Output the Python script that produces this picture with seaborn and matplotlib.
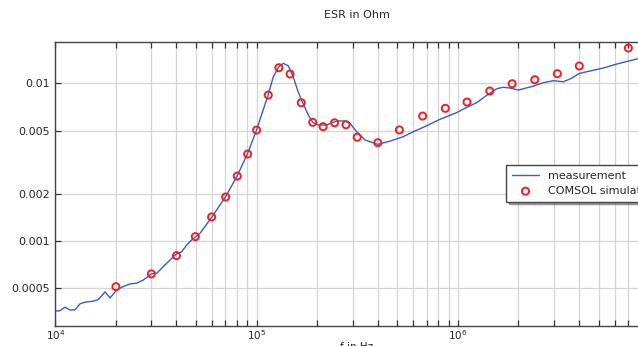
import numpy as np
import pandas as pd
import matplotlib
matplotlib.use("Agg")
import matplotlib.pyplot as plt
from matplotlib.ticker import FixedLocator, FixedFormatter, LogLocator, NullFormatter, NullLocator
import seaborn as sns

# Measured ESR spectrum
meas_freq = [1.0e4, 1.05e4, 1.118e4, 1.18e4, 1.25e4, 1.327e4, 1.405e4, 1.545e4, 1.635e4,
             1.766e4, 1.87e4, 2.0e4, 2.14e4, 2.35e4, 2.54e4, 2.74e4, 3.0e4, 3.19e4, 3.44e4,
             3.79e4, 4.0e4, 4.25e4, 4.5e4, 4.76e4, 5.24e4, 6.0e4, 7.0e4, 8.0e4, 9.0e4, 1.0e5,
             1.07e5, 1.14e5, 1.21e5, 1.29e5, 1.358e5, 1.437e5, 1.52e5, 1.6e5, 1.67e5, 1.806e5,
             1.9e5, 2.03e5, 2.23e5, 2.5e5, 2.75e5, 2.91e5, 3.14e5, 3.46e5, 4.0e5, 4.6e5, 5.36e5,
             6.0e5, 6.73e5, 8.15e5, 9.86e5, 1.11e6, 1.24e6, 1.36e6, 1.44e6, 1.56e6, 1.68e6,
             1.81e6, 2.0e6, 2.37e6, 2.66e6, 2.98e6, 3.34e6, 3.67e6, 4.01e6, 4.53e6, 5.27e6,
             6.15e6, 7.03e6, 7.82e6, 9.0e6]
meas_esr = [3.6e-4, 3.6e-4, 3.8e-4, 3.65e-4, 3.65e-4, 3.99e-4, 4.09e-4, 4.15e-4, 4.25e-4,
            4.75e-4, 4.35e-4, 4.82e-4, 5.09e-4, 5.34e-4, 5.4e-4, 5.66e-4, 6.18e-4, 6.24e-4, 6.87e-4,
            7.76e-4, 8.27e-4, 8.55e-4, 9.44e-4, 1.015e-3, 1.12e-3, 1.42e-3, 1.9e-3, 2.58e-3, 3.56e-3, 5.06e-3,
            6.6e-3, 8.4e-3, 1.10e-2, 1.274e-2, 1.34e-2, 1.29e-2, 1.10e-2, 9.0e-3, 7.84e-3, 6.3e-3,
            5.66e-3, 5.44e-3, 5.44e-3, 5.77e-3, 5.77e-3, 5.58e-3, 4.93e-3, 4.37e-3, 4.1e-3, 4.3e-3, 4.59e-3,
            4.93e-3, 5.26e-3, 5.91e-3, 6.52e-3, 7.05e-3, 7.54e-3, 8.22e-3, 8.64e-3, 9.24e-3, 9.44e-3,
            9.34e-3, 9.07e-3, 9.6e-3, 1.01e-2, 1.039e-2, 1.023e-2, 1.076e-2, 1.156e-2, 1.197e-2, 1.25e-2,
            1.325e-2, 1.384e-2, 1.432e-2, 1.5e-2]

# COMSOL simulation results
sim_freq = [2.0e4, 3.0e4, 4.0e4, 4.96e4, 5.98e4, 7.02e4, 8.02e4, 9.03e4, 1.0e5, 1.143e5,
            1.29e5, 1.466e5, 1.667e5, 1.9e5, 2.14e5, 2.44e5, 2.78e5, 3.16e5, 4.0e5, 5.12e5,
            6.68e5, 8.66e5, 1.11e6, 1.44e6, 1.86e6, 2.41e6, 3.12e6, 4.01e6, 7.03e6]
sim_esr = [5.13e-4, 6.18e-4, 8.07e-4, 1.065e-3, 1.42e-3, 1.9e-3, 2.58e-3, 3.56e-3, 5.05e-3, 8.43e-3,
           1.256e-2, 1.146e-2, 7.53e-3, 5.66e-3, 5.31e-3, 5.62e-3, 5.46e-3, 4.55e-3, 4.2e-3, 5.06e-3,
           6.2e-3, 6.94e-3, 7.61e-3, 8.94e-3, 9.94e-3, 1.054e-2, 1.151e-2, 1.288e-2, 1.675e-2]

y_ticks = [0.0005, 0.001, 0.002, 0.005, 0.01]
y_tick_labels = ["0.0005", "0.001", "0.002", "0.005", "0.01"]

meas = pd.DataFrame({"f": meas_freq, "esr": meas_esr})
sim = pd.DataFrame({"f": sim_freq, "esr": sim_esr})

sns.set_style("white")
plt.rcParams["font.family"] = ["DejaVu Sans"]

fig = plt.figure(figsize=(6.38, 3.46), dpi=100)
ax = fig.add_axes([0.0867, 0.0587, 0.9451, 0.8199])

sns.lineplot(data=meas, x="f", y="esr", ax=ax, color="#3a5cc0", linewidth=1.0,
             label="measurement", sort=False)
sns.scatterplot(data=sim, x="f", y="esr", ax=ax, marker="o", s=26,
                facecolor="none", edgecolor="#ee2024", linewidth=1.4,
                label="COMSOL simulation", zorder=5)

ax.set_xscale("log")
ax.set_yscale("log")
ax.set_xlim(1e4, 9.9e6)
ax.set_ylim(2.9e-4, 0.01829)

ax.yaxis.set_major_locator(FixedLocator(y_ticks))
ax.yaxis.set_major_formatter(FixedFormatter(y_tick_labels))
ax.yaxis.set_minor_locator(NullLocator())

ax.xaxis.set_major_locator(LogLocator(base=10))
ax.xaxis.set_minor_locator(LogLocator(base=10, subs=np.arange(2, 10)))
ax.xaxis.set_minor_formatter(NullFormatter())

ax.grid(True, which="major", axis="both", color="#d4d4d4", linewidth=0.9)
ax.grid(True, which="minor", axis="x", color="#d4d4d4", linewidth=0.9)

for side in ["left", "top", "bottom"]:
    ax.spines[side].set_color("#444444")
    ax.spines[side].set_linewidth(1.0)
ax.spines["right"].set_visible(False)

ax.tick_params(axis="x", which="both", direction="in", top=True, bottom=True,
               length=4, width=0.9, color="#333333", labelsize=7.5, pad=2)
ax.tick_params(axis="y", which="major", direction="in", left=True, right=False,
               length=4, width=0.9, color="#333333", labelsize=8, pad=4)

ax.set_title("ESR in Ohm", fontsize=8, pad=17)
ax.set_xlabel("f in Hz", fontsize=7.5, labelpad=0)
ax.set_ylabel("")

leg = ax.legend(loc="upper left", bbox_to_anchor=(0.7475, 0.5665), borderaxespad=0,
                fontsize=8, frameon=True, fancybox=False, shadow=True,
                edgecolor="#444444", framealpha=1, handlelength=2.5,
                borderpad=0.5, labelspacing=0.5)
leg.get_frame().set_linewidth(1.0)

fig.savefig("out.png", dpi=100)
